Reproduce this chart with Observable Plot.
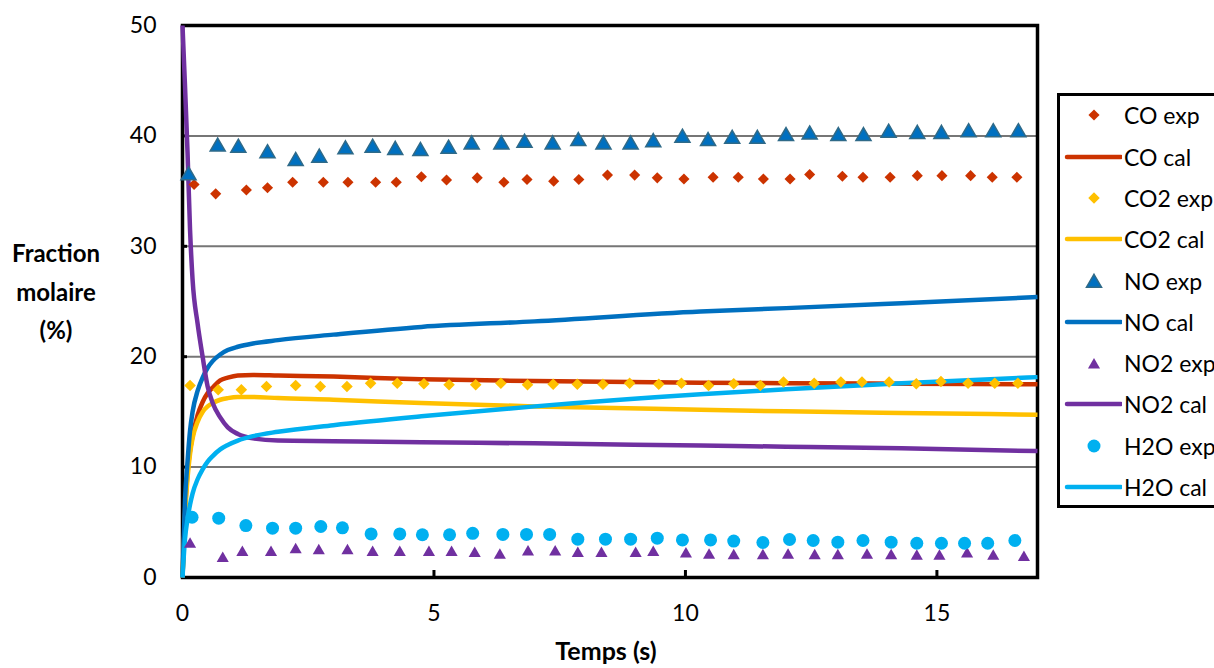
<!DOCTYPE html>
<html><head><meta charset="utf-8">
<script src="https://cdn.jsdelivr.net/npm/d3@7"></script>
<script src="https://cdn.jsdelivr.net/npm/@observablehq/plot@0.6"></script>
<style>
body{margin:0;background:#fff;width:1214px;height:668px;overflow:hidden;position:relative;font-family:Lato,"Open Sans",sans-serif;color:#000;}
#chart{position:absolute;left:0;top:0;}
.ytitle{position:absolute;left:0;width:112px;top:234px;text-align:center;font-weight:bold;font-size:24px;line-height:38.5px;}
.xtitle{position:absolute;left:456px;width:300px;top:636px;text-align:center;font-weight:bold;font-size:25px;line-height:28px;}
#legend{position:absolute;left:1057px;top:93px;width:190px;height:409px;border:3px solid #000;background:#fff;}
.row{position:absolute;left:0;height:40px;width:190px;}
.row svg{position:absolute;left:4px;top:0;}
.row span{position:absolute;left:64px;top:0;line-height:40px;font-size:23px;white-space:nowrap;}
</style></head>
<body>
<div id="chart"></div>
<div class="ytitle">Fraction<br>molaire<br>(%)</div>
<div class="xtitle">Temps (s)</div>
<div id="legend"></div>
<script>
// ---- data ----
const xTicks = [0, 5, 10, 15];
const yTicks = [0, 10, 20, 30, 40, 50];
const gridTicks = [10, 20, 30, 40];

const coExpT  = [0.23,0.66,1.27,1.69,2.19,2.8,3.29,3.84,4.25,4.75,5.25,5.86,6.39,6.85,7.38,7.88,8.45,8.99,9.44,9.97,10.55,11.05,11.55,12.08,12.47,13.12,13.53,14.07,14.61,15.1,15.67,16.1,16.59];
const coExp   = [35.6,34.75,35.1,35.3,35.8,35.8,35.8,35.8,35.8,36.3,36.0,36.2,35.8,36.05,35.9,36.05,36.45,36.45,36.2,36.1,36.25,36.25,36.1,36.1,36.5,36.35,36.25,36.25,36.4,36.4,36.4,36.25,36.25];
const co2ExpT = [0.15,0.71,1.17,1.67,2.25,2.74,3.27,3.74,4.27,4.8,5.3,5.83,6.33,6.86,7.37,7.85,8.36,8.89,9.47,9.92,10.46,10.96,11.49,11.95,12.56,13.09,13.51,14.05,14.59,15.08,15.62,16.15,16.61];
const co2Exp  = [17.4,17.0,17.0,17.3,17.4,17.3,17.3,17.6,17.6,17.55,17.45,17.45,17.6,17.45,17.5,17.5,17.5,17.6,17.5,17.6,17.4,17.55,17.4,17.7,17.6,17.7,17.7,17.7,17.55,17.75,17.6,17.6,17.6];
const noExpT  = [0.12,0.70,1.11,1.69,2.25,2.72,3.24,3.78,4.23,4.73,5.29,5.75,6.34,6.8,7.36,7.87,8.37,8.91,9.36,9.94,10.45,10.93,11.43,12.0,12.47,13.04,13.54,14.04,14.61,15.09,15.63,16.12,16.62];
const noExp   = [36.6,39.2,39.1,38.6,37.9,38.2,38.95,39.1,38.9,38.8,39.0,39.4,39.4,39.55,39.4,39.7,39.4,39.4,39.6,40.0,39.7,39.9,39.9,40.15,40.3,40.15,40.15,40.45,40.35,40.35,40.5,40.5,40.5];
const no2ExpT = [0.15,0.8,1.19,1.76,2.25,2.71,3.28,3.78,4.32,4.9,5.35,5.81,6.31,6.87,7.41,7.86,8.33,9.01,9.36,10.01,10.47,10.96,11.54,12.04,12.57,13.03,13.61,14.09,14.6,15.05,15.6,16.12,16.73];
const no2Exp  = [3.2,1.9,2.45,2.45,2.7,2.6,2.6,2.45,2.45,2.45,2.45,2.35,2.2,2.5,2.5,2.35,2.35,2.35,2.45,2.3,2.2,2.15,2.15,2.2,2.15,2.15,2.2,2.15,2.1,2.1,2.3,2.1,2.0];
const h2oExpT = [0.19,0.72,1.26,1.79,2.25,2.75,3.18,3.75,4.32,4.77,5.31,5.77,6.37,6.84,7.3,7.86,8.41,8.91,9.44,9.94,10.5,10.96,11.54,12.07,12.54,13.03,13.53,14.09,14.6,15.09,15.55,16.01,16.55];
const h2oExp  = [5.46,5.37,4.7,4.47,4.47,4.62,4.5,3.95,3.95,3.87,3.87,4.0,3.9,3.9,3.9,3.47,3.47,3.47,3.56,3.4,3.4,3.3,3.17,3.44,3.35,3.2,3.35,3.2,3.1,3.1,3.1,3.1,3.35];

const calT   = [0,0.05,0.1,0.15,0.2,0.3,0.4,0.5,0.6,0.75,0.9,1.1,1.4,1.9,3,4.75,7,10.3,12,14.3,17];
const coCal  = [0,6,9.5,11.5,12.8,14.7,15.9,16.7,17.2,17.85,18.1,18.3,18.35,18.3,18.2,17.95,17.8,17.65,17.6,17.55,17.5];
const co2Cal = [0,5.5,9,11.2,12.6,14.1,15.0,15.5,15.8,16.1,16.25,16.35,16.35,16.25,16.1,15.8,15.5,15.2,15.05,14.9,14.75];
const noCal  = [0,7,10.5,13.3,15,16.9,18.1,19.0,19.6,20.2,20.6,20.9,21.2,21.5,22.0,22.7,23.2,24.1,24.4,24.85,25.4];
const no2Cal = [50,44.5,38.5,31.5,27,23,20,17.3,15.8,14.5,13.6,13.0,12.6,12.4,12.35,12.25,12.15,11.95,11.85,11.7,11.45];
const h2oCal = [0,3.5,5.3,6.6,7.6,8.9,9.8,10.5,11.0,11.6,12.0,12.4,12.8,13.2,13.8,14.6,15.5,16.6,17.05,17.6,18.15];

const names  = ["CO", "CO2", "NO", "NO2", "H2O"];
const colors = ["#CC3300", "#FFC000", "#0070C0", "#7030A0", "#00B0F0"];
const symbols = ["diamond2", "diamond2", "triangle", "triangle", "circle"];
const sizes  = [5, 5.2, 5.6, 4.5, 6.5];
const expT = [coExpT, co2ExpT, noExpT, no2ExpT, h2oExpT];
const expV = [coExp, co2Exp, noExp, no2Exp, h2oExp];
const calV = [coCal, co2Cal, noCal, no2Cal, h2oCal];

// ---- chart ----
const lineMarks = calV.map((v, k) => Plot.line(calT.map((t, i) => ({t, v: v[i]})),
  {x: "t", y: "v", stroke: colors[k], strokeWidth: 4.5, curve: "monotone-x", strokeLinecap: "butt"}));
const dotMarks = expV.map((v, k) => Plot.dot(expT[k].map((t, i) => ({t, v: v[i]})),
  {x: "t", y: "v", symbol: symbols[k], r: sizes[k], fill: colors[k],
   stroke: k === 2 ? "#2F6A88" : "none", strokeWidth: k === 2 ? 1.5 : 0,
   dy: symbols[k] === "triangle" ? 2 : 0}));

const chart = Plot.plot({
  width: 1214, height: 668,
  marginLeft: 182, marginRight: 177, marginTop: 25, marginBottom: 91,
  style: {fontFamily: "Lato, 'Open Sans', sans-serif", fontSize: "23px", color: "#000", background: "transparent", overflow: "visible"},
  x: {domain: [0, 17]},
  y: {domain: [0, 50]},
  marks: [
    Plot.gridY(gridTicks, {stroke: "#767676", strokeOpacity: 1, strokeWidth: 2}),
    Plot.axisY(yTicks, {tickSize: -5, tickPadding: 31, label: null, stroke: "#000", strokeWidth: 3, fontSize: 23}),
    Plot.axisX(xTicks, {tickSize: -7, tickPadding: 34, label: null, stroke: "#000", strokeWidth: 3, fontSize: 23}),
    Plot.frame({stroke: "#000", strokeWidth: 3.5}),
    ...lineMarks,
    ...dotMarks
  ]
});
document.getElementById("chart").appendChild(chart);

// ---- legend ----
const legend = document.getElementById("legend");
const NS = "http://www.w3.org/2000/svg";
let row = 0;
names.forEach((n, k) => {
  ["exp", "cal"].forEach(kind => {
    const div = document.createElement("div");
    div.className = "row";
    div.style.top = (19.3 + 41.3 * row - 20) + "px";
    const svg = document.createElementNS(NS, "svg");
    svg.setAttribute("width", 58); svg.setAttribute("height", 40);
    if (kind === "cal") {
      const l = document.createElementNS(NS, "line");
      l.setAttribute("x1", 3); l.setAttribute("x2", 57); l.setAttribute("y1", 20); l.setAttribute("y2", 20);
      l.setAttribute("stroke", colors[k]); l.setAttribute("stroke-width", 4.5); l.setAttribute("stroke-linecap", "round");
      svg.appendChild(l);
    } else {
      const sym = {diamond2: d3.symbolDiamond2, triangle: d3.symbolTriangle, circle: d3.symbolCircle}[symbols[k]];
      const r = sizes[k];
      const p = document.createElementNS(NS, "path");
      p.setAttribute("d", d3.symbol(sym, Math.PI * r * r)());
      p.setAttribute("transform", `translate(30,${symbols[k] === "triangle" ? 22 : 20})`);
      p.setAttribute("fill", colors[k]);
      if (k === 2) { p.setAttribute("stroke", "#2F6A88"); p.setAttribute("stroke-width", 1.5); }
      svg.appendChild(p);
    }
    div.appendChild(svg);
    const span = document.createElement("span");
    span.textContent = n + " " + kind;
    div.appendChild(span);
    legend.appendChild(div);
    row++;
  });
});
</script>
</body></html>
